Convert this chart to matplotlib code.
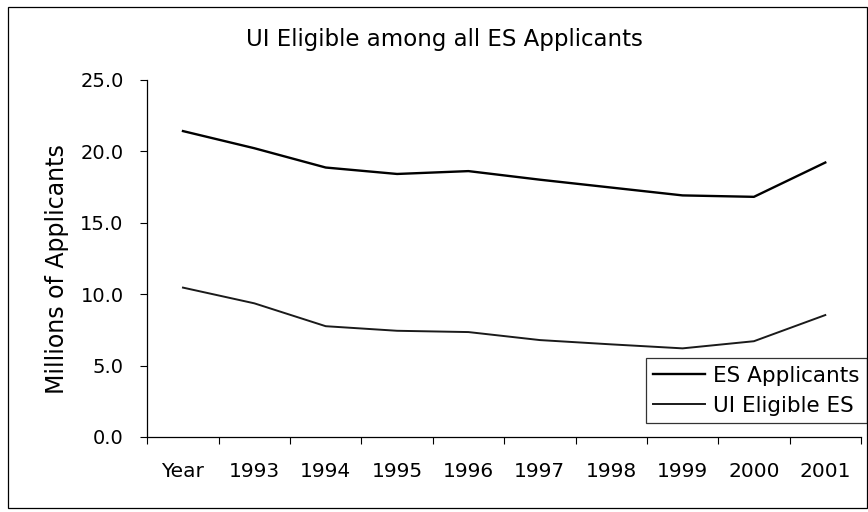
import matplotlib.pyplot as plt
from matplotlib.patches import Rectangle

plt.rcParams['font.family'] = ['DejaVu Sans']

categories = ['Year', '1993', '1994', '1995', '1996', '1997', '1998', '1999', '2000', '2001']
es_applicants = [21.4, 20.2, 18.85, 18.4, 18.6, 18.0, 17.45, 16.9, 16.8, 19.2]
ui_eligible = [10.45, 9.35, 7.75, 7.43, 7.34, 6.78, 6.48, 6.2, 6.7, 8.53]

fig = plt.figure(figsize=(8.68, 5.12), dpi=100)
ax = fig.add_axes([0.1697, 0.1465, 0.8222, 0.698])

x = range(len(categories))
ax.plot(x, es_applicants, color='black', lw=1.7, label='ES Applicants')
ax.plot(x, ui_eligible, color='#1a1a1a', lw=1.4, label='UI Eligible ES')

ax.set_xlim(-0.5, len(categories) - 0.5)
ax.set_ylim(0, 25)
ax.set_yticks([0, 5, 10, 15, 20, 25])
ax.set_yticklabels(['0.0', '5.0', '10.0', '15.0', '20.0', '25.0'], fontsize=14)

# tick marks at category boundaries, labels at category centres
ax.set_xticks([i - 0.5 for i in range(len(categories) + 1)])
ax.set_xticklabels([])
ax.set_xticks(list(x), minor=True)
ax.set_xticklabels(categories, minor=True, fontsize=14.5)
ax.tick_params(axis='x', which='minor', length=0, pad=18)
ax.tick_params(axis='x', which='major', length=5, width=0.8, direction='out')
ax.tick_params(axis='y', length=5, width=0.8, pad=12)

for s in ['top', 'right']:
    ax.spines[s].set_visible(False)
for s in ['left', 'bottom']:
    ax.spines[s].set_linewidth(0.9)

ax.set_ylabel('Millions of Applicants', fontsize=17)
ax.yaxis.set_label_coords(-0.11, 0.47)
fig.text(0.512, 0.910, 'UI Eligible among all ES Applicants', fontsize=16.5,
         ha='center', va='baseline')

leg = ax.legend(loc='lower right', bbox_to_anchor=(1.008, 0.039), fontsize=15.5,
                frameon=True, fancybox=False, edgecolor='black', handlelength=2.4,
                handletextpad=0.35, borderpad=0.35, labelspacing=0.45, borderaxespad=0)
leg.get_frame().set_linewidth(0.9)

fig.patches.append(Rectangle((0.009, 0.008), 0.99, 0.978, transform=fig.transFigure,
                             fill=False, edgecolor='black', lw=0.9))

fig.savefig('out.png', dpi=100)
